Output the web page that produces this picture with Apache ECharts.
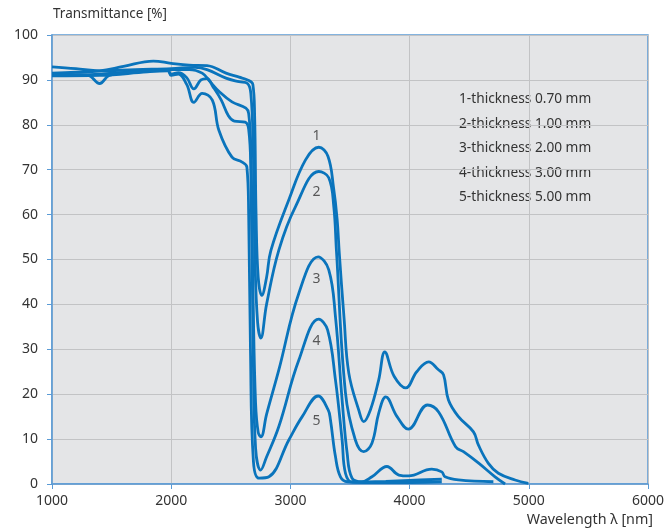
<!DOCTYPE html>
<html><head><meta charset="utf-8">
<script src="https://cdn.jsdelivr.net/npm/echarts@6/dist/echarts.min.js"></script>
<style>html,body{margin:0;padding:0;background:#fff}#c{width:667px;height:532px}</style>
</head><body><div id="c"></div>
<script>
const xTicks = [1000, 2000, 3000, 4000, 5000, 6000];
const yTicks = [0, 10, 20, 30, 40, 50, 60, 70, 80, 90, 100];
const legendLines = ['1-thickness 0.70 mm','2-thickness 1.00 mm','3-thickness 2.00 mm','4-thickness 3.00 mm','5-thickness 5.00 mm'];
const curveLabels = [['1',3220,77.5],['2',3220,65],['3',3220,45.7],['4',3220,31.8],['5',3220,14]];

const curve1 = [[1000,91.5],[1200,91.7],[1400,92],[1600,93],[1850,94.2],[2000,93.7],[2150,93.3],[2300,93.2],[2460,91.5],[2570,90.6],[2640,90],[2685,89],[2700,82],[2712,60],[2730,46],[2760,42],[2800,46],[2836,52],[2987,63.3],[3127,72.2],[3238,75],[3315,73],[3362,66],[3392,59],[3410,51.5],[3450,37],[3490,24.7],[3573,16.5],[3615,13.9],[3671,16.5],[3741,23.2],[3792,29.4],[3870,24],[3968,21.4],[4060,25],[4160,27.2],[4240,25.5],[4285,24.3],[4326,18.7],[4410,15],[4536,11.6],[4577,8.7],[4661,4.6],[4745,2.4],[4885,0.9],[4996,0.15]];
const curve2 = [[1000,92.9],[1200,92.5],[1400,92],[1700,92.3],[2000,92.5],[2200,92.8],[2300,92.3],[2460,90.4],[2570,89.6],[2640,89.2],[2668,87],[2688,75],[2703,50],[2725,36],[2752,32.5],[2800,40],[2903,52.1],[3043,61.8],[3238,69.6],[3322,68.2],[3364,61.8],[3386,52.1],[3462,20.3],[3545,9.8],[3615,7.2],[3684,9.1],[3741,15.8],[3800,19.4],[3895,15],[3990,12.2],[4150,17.6],[4245,16],[4386,8.3],[4452,7.2],[4577,4.7],[4717,1.6],[4801,0]];
const curve3 = [[1000,91],[1400,91.3],[1800,92],[2000,92.3],[2150,92.3],[2260,91.5],[2330,89.5],[2402,87.4],[2510,85.1],[2627,83.7],[2650,82.5],[2668,75],[2688,40],[2708,18],[2730,11.5],[2753,10.5],[2800,15.5],[2903,25.4],[3071,42.5],[3233,50.6],[3322,47.7],[3378,37.3],[3434,18.7],[3476,6.9],[3517,1.3],[3600,0.5],[3684,1.6],[3810,3.9],[3910,2],[3992,1.8],[4186,3.3],[4270,2.7],[4298,1.6],[4410,0.9],[4703,0.5]];
const curve4 = [[1000,90.9],[1400,91],[1800,91.8],[1970,92],[2000,91.3],[2060,91.6],[2130,90.5],[2190,88],[2250,90],[2300,90.3],[2350,88.5],[2420,85.5],[2480,82],[2530,80.8],[2620,80.6],[2650,79],[2668,70],[2688,30],[2708,8],[2751,3.1],[2800,6],[2903,12.8],[3071,27.6],[3238,36.7],[3312,34.3],[3378,23.2],[3434,9.8],[3462,2.4],[3520,0.4],[3800,0.6],[4000,0.8],[4270,1.1]];
const curve5 = [[1000,91.2],[1300,91],[1400,89.2],[1480,91],[1700,91.8],[1970,92.2],[2000,91],[2060,91.3],[2130,89],[2190,85],[2260,87],[2345,85.5],[2400,78.8],[2510,72.8],[2595,71.7],[2635,70.6],[2650,60],[2665,30],[2690,5],[2737,1.3],[2820,1.6],[2987,9.8],[3099,15],[3233,19.6],[3317,16.5],[3336,14.3],[3378,6.1],[3420,1.6],[3480,0.5],[3800,0.3],[4270,0.5]];

const curves = [curve1, curve2, curve3, curve4, curve5];
const lineColor = '#0a74bc';
const chart = echarts.init(document.getElementById('c'));
const series = curves.map(d => ({
  type: 'line', data: d, showSymbol: false, smooth: 0.4,
  lineStyle: {color: lineColor, width: 2.8}, z: 3, silent: true
}));
series.push({
  type: 'scatter', data: curveLabels.map(l => [l[1], l[2], l[0]]), symbolSize: 0,
  label: {show: true, position: 'inside', formatter: p => p.data[2], color: '#333', fontSize: 14, fontFamily: 'Noto Sans'}
});
chart.setOption({
  animation: false,
  grid: {left: 52, right: 15, top: 35, bottom: 48, show: true, backgroundColor: '#e4e5e7', borderColor: '#5b9bd5', borderWidth: 1.5},
  xAxis: {type: 'value', min: xTicks[0], max: xTicks[xTicks.length-1], interval: 1000,
    axisLine: {show: true, lineStyle: {color: '#5b9bd5', width: 1.5}},
    axisTick: {show: true, length: 5, lineStyle: {color: '#5b9bd5'}},
    axisLabel: {color: '#333', fontSize: 14, fontFamily: 'Noto Sans', margin: 10, formatter: v => String(v)},
    splitLine: {show: true, lineStyle: {color: '#c2c3c5', width: 1}}},
  yAxis: {type: 'value', min: yTicks[0], max: yTicks[yTicks.length-1], interval: 10,
    axisLine: {show: true, lineStyle: {color: '#5b9bd5', width: 1.5}},
    axisTick: {show: true, length: 5, lineStyle: {color: '#5b9bd5'}},
    axisLabel: {color: '#333', fontSize: 14, fontFamily: 'Noto Sans', margin: 14, formatter: v => String(v)},
    splitLine: {show: true, lineStyle: {color: '#c2c3c5', width: 1}}},
  graphic: [
    {type: 'text', left: 53, top: 7, style: {text: 'Transmittance [%]', fill: '#333', font: '13.5px "Noto Sans"'}},
    {type: 'text', right: 14, top: 513, style: {text: 'Wavelength λ [nm]', fill: '#333', font: '14.3px "Noto Sans"'}},
    {type: 'text', left: 459, top: 87, style: {text: legendLines.join('\n'), fill: '#333', font: '13.7px "Noto Sans"', lineHeight: 24.5}}
  ],
  series: series
});
</script></body></html>
